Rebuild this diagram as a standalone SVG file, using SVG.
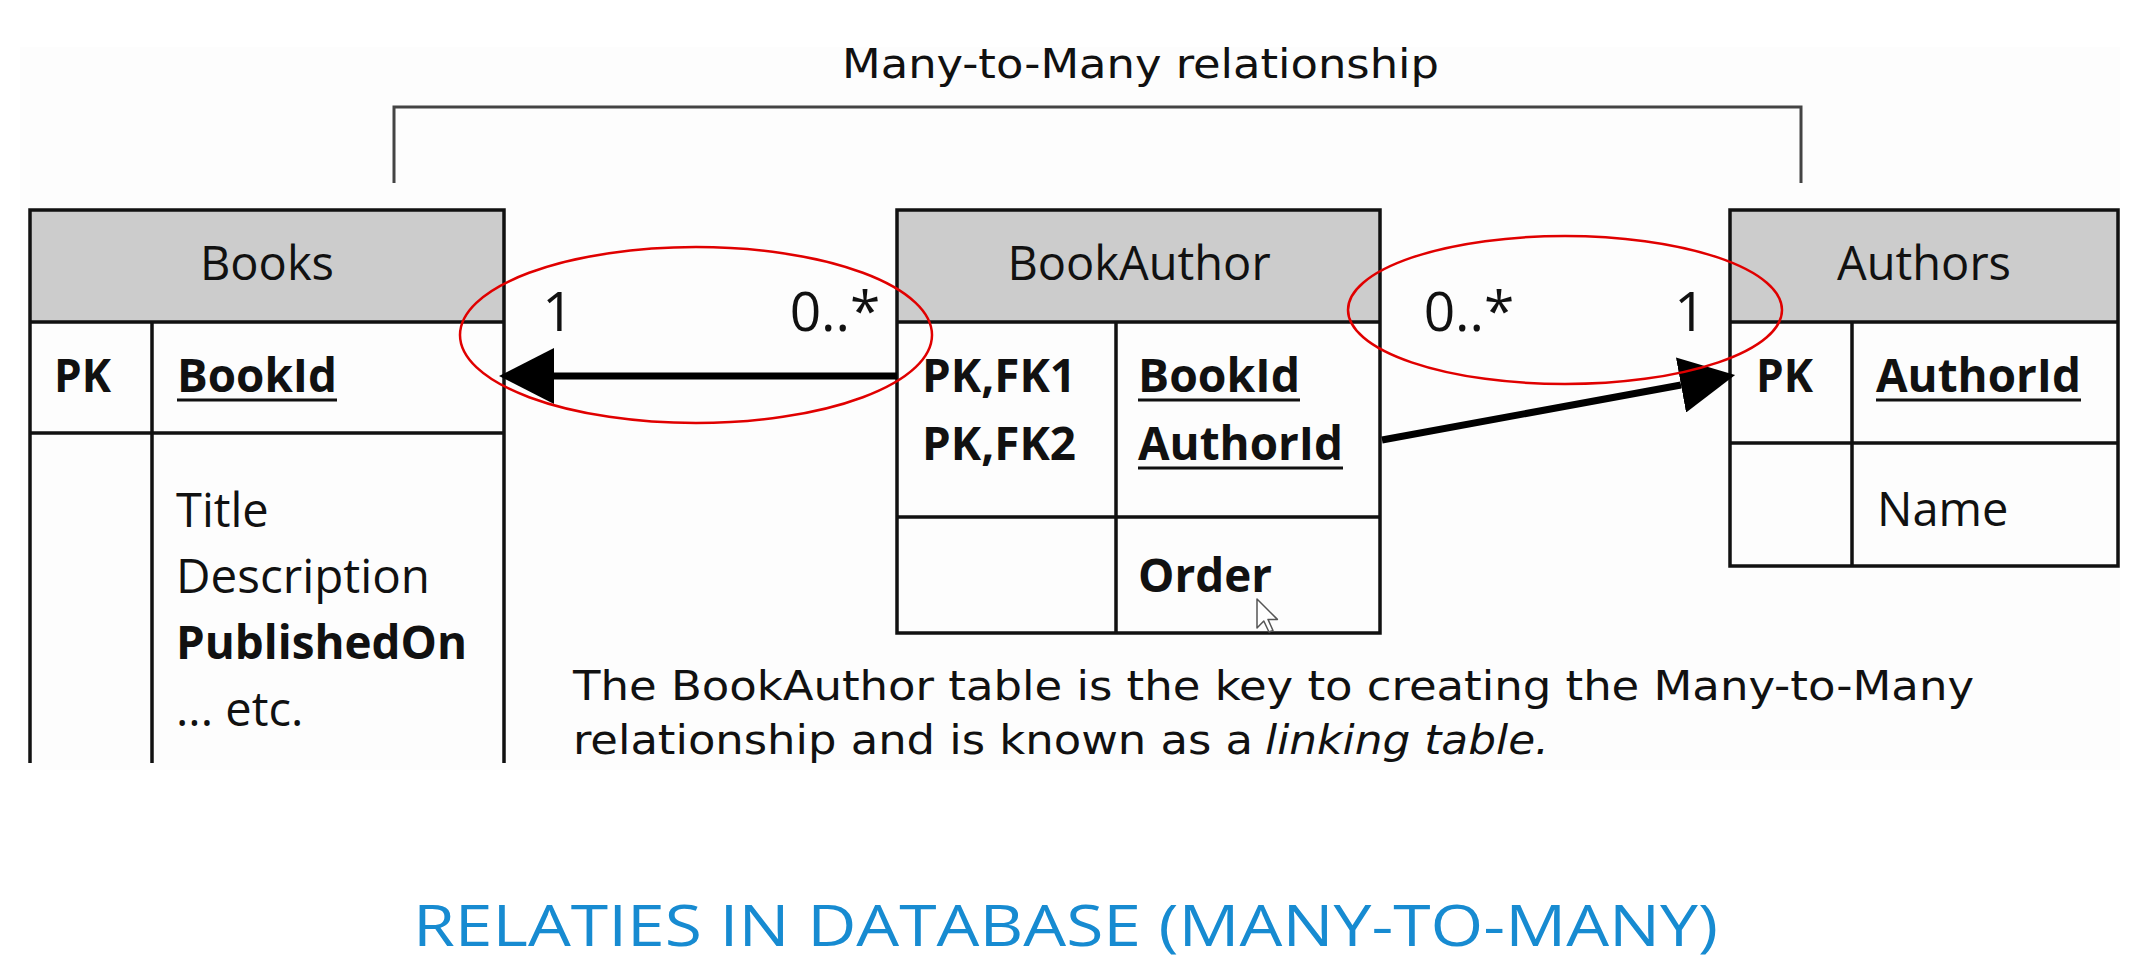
<svg xmlns="http://www.w3.org/2000/svg" width="2155" height="976" viewBox="0 0 2155 976">
<defs>
<style>
.tbl{fill:none;stroke:#111;stroke-width:3.5}
.hdr{fill:#cccccc;stroke:none}
.ln{stroke:#111;stroke-width:3.5;fill:none}
.t{font-family:"Open Sans","Liberation Sans",sans-serif;font-size:47px;fill:#111}
.h{text-anchor:middle}
.b{font-weight:bold}
.ul{stroke:#111;stroke-width:3}
.card{font-family:"Open Sans","Liberation Sans",sans-serif;font-size:55px;fill:#111;text-anchor:middle}
.note{font-family:"DejaVu Sans Condensed","DejaVu Sans",sans-serif;font-size:41px;fill:#111}
.conn{stroke:#000;stroke-width:7;fill:none}
.oval{fill:none;stroke:#e00000;stroke-width:2.5}
</style>
<marker id="arr" viewBox="0 0 55 56" refX="0" refY="28" markerWidth="55" markerHeight="56" markerUnits="userSpaceOnUse" orient="auto">
<path d="M0,0 L55,28 L0,56 Z" fill="#000"/>
</marker>
</defs>
<rect x="0" y="0" width="2155" height="976" fill="#ffffff"/>
<rect x="20" y="47" width="2100" height="723" fill="#fdfdfd"/>

<g id="relationship-label">
<text class="note" x="842" y="78" textLength="597" lengthAdjust="spacingAndGlyphs">Many-to-Many relationship</text>
<path d="M394,183 V107 H1801 V183" fill="none" stroke="#444" stroke-width="3"/>
</g>

<g id="books">
<rect class="hdr" x="30" y="210" width="474" height="112"/>
<path class="ln" d="M30,763 V210 H504 V763 M30,322 H504 M30,433 H504 M152,322 V763"/>
<text class="t h" x="267" y="280">Books</text>
<text class="t b" x="54" y="392" textLength="57" lengthAdjust="spacingAndGlyphs">PK</text>
<text class="t b" x="177" y="392" textLength="160" lengthAdjust="spacingAndGlyphs">BookId</text>
<line class="ul" x1="177" y1="400" x2="337" y2="400"/>
<text class="t" x="176" y="527">Title</text>
<text class="t" x="176" y="593" textLength="254" lengthAdjust="spacingAndGlyphs">Description</text>
<text class="t b" x="176" y="659" textLength="291" lengthAdjust="spacingAndGlyphs">PublishedOn</text>
<text class="t" x="176" y="726">... etc.</text>
</g>

<g id="bookauthor">
<rect class="hdr" x="897" y="210" width="483" height="112"/>
<rect class="tbl" x="897" y="210" width="483" height="423"/>
<path class="ln" d="M897,322 H1380 M897,517 H1380 M1116,322 V633"/>
<text class="t h" x="1139" y="280">BookAuthor</text>
<text class="t b" x="922" y="392" textLength="154" lengthAdjust="spacingAndGlyphs">PK,FK1</text>
<text class="t b" x="922" y="460" textLength="154" lengthAdjust="spacingAndGlyphs">PK,FK2</text>
<text class="t b" x="1138" y="392" textLength="162" lengthAdjust="spacingAndGlyphs">BookId</text>
<line class="ul" x1="1138" y1="400" x2="1300" y2="400"/>
<text class="t b" x="1138" y="460" textLength="205" lengthAdjust="spacingAndGlyphs">AuthorId</text>
<line class="ul" x1="1138" y1="468" x2="1343" y2="468"/>
<text class="t b" x="1138" y="592" textLength="134" lengthAdjust="spacingAndGlyphs">Order</text>
</g>

<g id="authors">
<rect class="hdr" x="1730" y="210" width="388" height="112"/>
<rect class="tbl" x="1730" y="210" width="388" height="356"/>
<path class="ln" d="M1730,322 H2118 M1730,443 H2118 M1852,322 V566"/>
<text class="t h" x="1924" y="280">Authors</text>
<text class="t b" x="1756" y="392" textLength="57" lengthAdjust="spacingAndGlyphs">PK</text>
<text class="t b" x="1876" y="392" textLength="205" lengthAdjust="spacingAndGlyphs">AuthorId</text>
<line class="ul" x1="1876" y1="400" x2="2081" y2="400"/>
<text class="t" x="1877" y="526">Name</text>
</g>

<g id="connectors">
<line class="conn" x1="897" y1="376" x2="554" y2="376" marker-end="url(#arr)"/>
<line class="conn" x1="1382" y1="440" x2="1681" y2="385" marker-end="url(#arr)"/>
<text class="card" x="558" y="331">1</text>
<text class="card" x="835" y="331">0..*</text>
<text class="card" x="1469" y="331">0..*</text>
<text class="card" x="1690" y="331">1</text>
<ellipse class="oval" cx="696" cy="335" rx="236" ry="88"/>
<ellipse class="oval" cx="1565" cy="310" rx="217" ry="74"/>
</g>

<g id="cursor">
<polygon points="1257,599 1257,628 1263.8,621 1269,632 1273,630.5 1268,619.4 1277.4,619.4" fill="#fff" stroke="#555" stroke-width="1.5" stroke-linejoin="round"/>
</g>

<g id="footnote">
<text class="note" x="573" y="700" textLength="1401" lengthAdjust="spacingAndGlyphs">The BookAuthor table is the key to creating the Many-to-Many</text>
<text class="note" x="573" y="754" textLength="680" lengthAdjust="spacingAndGlyphs">relationship and is known as a</text>
<text class="note" x="1265" y="754" font-style="italic" textLength="284" lengthAdjust="spacingAndGlyphs">linking table.</text>
</g>

<g id="page-title">
<text x="413" y="946" font-family="'Open Sans','Liberation Sans',sans-serif" font-weight="400" font-size="56" fill="#178bd1" textLength="1305" lengthAdjust="spacingAndGlyphs">RELATIES IN DATABASE (MANY-TO-MANY)</text>
</g>
</svg>
